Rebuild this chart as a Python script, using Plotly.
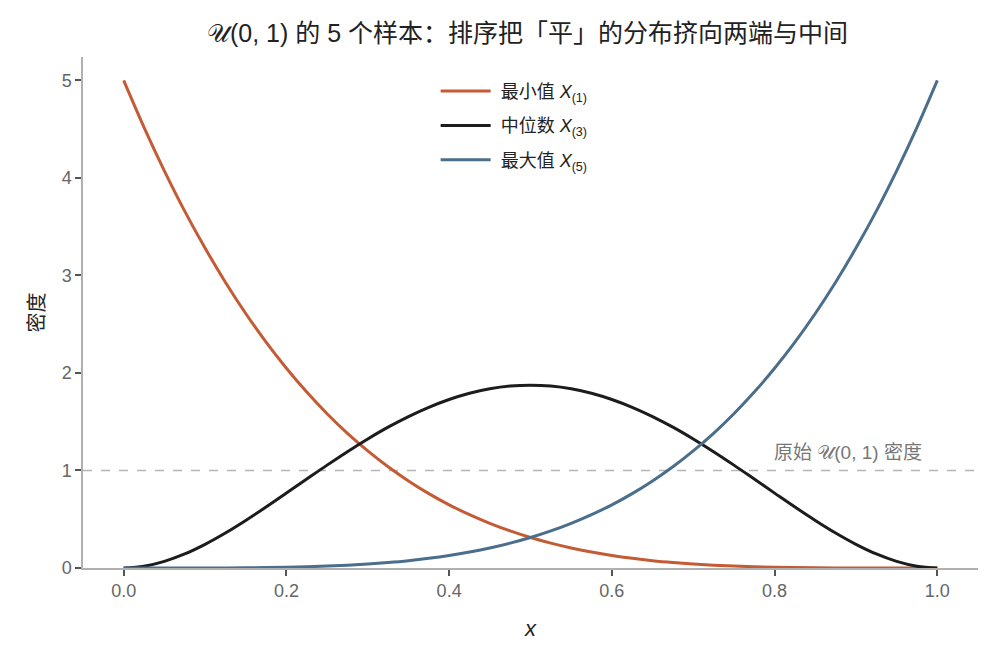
import plotly.graph_objects as go

# densities at x = 0, 0.025, ..., 1.0
xs = [0.0, 0.025, 0.05, 0.075, 0.1, 0.125, 0.15, 0.175, 0.2, 0.225, 0.25,
      0.275, 0.3, 0.325, 0.35, 0.375, 0.4, 0.425, 0.45, 0.475, 0.5,
      0.525, 0.55, 0.575, 0.6, 0.625, 0.65, 0.675, 0.7, 0.725, 0.75,
      0.775, 0.8, 0.825, 0.85, 0.875, 0.9, 0.925, 0.95, 0.975, 1.0]
min_density = [5.0, 4.519, 4.073, 3.660, 3.281, 2.931, 2.610, 2.316, 2.048, 1.804, 1.582,
               1.381, 1.2005, 1.038, 0.893, 0.763, 0.648, 0.547, 0.458, 0.380, 0.3125,
               0.255, 0.205, 0.163, 0.128, 0.099, 0.075, 0.056, 0.0405, 0.0286, 0.0195,
               0.0128, 0.008, 0.0047, 0.0025, 0.0012, 0.0005, 0.00016, 0.00003, 0.0, 0.0]
median_density = [0.0, 0.018, 0.068, 0.144, 0.243, 0.359, 0.488, 0.625, 0.768, 0.912, 1.055,
                  1.193, 1.323, 1.444, 1.553, 1.648, 1.728, 1.792, 1.838, 1.866, 1.875,
                  1.866, 1.838, 1.792, 1.728, 1.648, 1.553, 1.444, 1.323, 1.193, 1.055,
                  0.912, 0.768, 0.625, 0.488, 0.359, 0.243, 0.144, 0.068, 0.018, 0.0]
max_density = [0.0, 0.0, 0.00003, 0.00016, 0.0005, 0.0012, 0.0025, 0.0047, 0.008, 0.0128, 0.0195,
               0.0286, 0.0405, 0.056, 0.075, 0.099, 0.128, 0.163, 0.205, 0.255, 0.3125,
               0.380, 0.458, 0.547, 0.648, 0.763, 0.893, 1.038, 1.2005, 1.381, 1.582,
               1.804, 2.048, 2.316, 2.610, 2.931, 3.281, 3.660, 4.073, 4.519, 5.0]

names = ["\u00a0最小值 <i>X</i><sub>(1)</sub>", "\u00a0中位数 <i>X</i><sub>(3)</sub>",
         "\u00a0最大值 <i>X</i><sub>(5)</sub>"]
colors = ["#C45B35", "#1C1C1C", "#4A6E8B"]

font_fam = "Liberation Sans, Noto Sans CJK SC, DejaVu Sans, sans-serif"

fig = go.Figure()
for i, (ys, name, c) in enumerate(zip([min_density, median_density, max_density], names, colors)):
    fig.add_trace(go.Scatter(
        x=xs, y=ys, mode="lines", name=name, legendgroup=f"g{i}",
        line=dict(color=c, width=3, shape="spline", smoothing=1.0),
        cliponaxis=False,
    ))

# original U(0,1) density
fig.add_shape(type="line", xref="paper", yref="y", x0=0, x1=1, y0=1, y1=1,
              line=dict(color="#b5b5b5", width=1.5, dash="dash"), layer="below")
fig.add_annotation(x=0.984, y=1.18, xref="x", yref="y", xanchor="right", yanchor="middle",
                   text="原始 𝒰(0, 1) 密度", showarrow=False,
                   font=dict(size=19, color="#777777"))

fig.update_layout(
    width=999, height=660,
    paper_bgcolor="white", plot_bgcolor="white",
    margin=dict(l=75, r=29, t=49, b=100),
    font=dict(family=font_fam, color="#333333"),
    title=dict(text="𝒰(0, 1) 的 5 个样本：排序把「平」的分布挤向两端与中间",
               x=0.52, xanchor="center", y=0.962, yanchor="middle",
               font=dict(size=25, color="#222222")),
    legend=dict(x=0.394, y=0.969, xanchor="left", yanchor="top",
                bgcolor="rgba(0,0,0,0)", font=dict(size=18, color="#222222"),
                traceorder="grouped", tracegroupgap=8, itemwidth=50),
    xaxis=dict(range=[-0.05, 1.05], tickvals=[0, 0.2, 0.4, 0.6, 0.8, 1.0],
               ticktext=["0.0", "0.2", "0.4", "0.6", "0.8", "1.0"],
               showgrid=False, zeroline=False, showline=True, linecolor="#b0b0b0", linewidth=1.5,
               ticks="outside", ticklen=6, tickcolor="#555555", tickwidth=1.5,
               tickfont=dict(size=18, color="#666666"),
               title=dict(text="<i>x</i>", font=dict(size=22, color="#222222"), standoff=20)),
    yaxis=dict(range=[0, 5.24], tickvals=[0, 1, 2, 3, 4, 5],
               showgrid=False, zeroline=False, showline=True, linecolor="#b0b0b0", linewidth=1.5,
               ticks="outside", ticklen=6, tickcolor="#555555", tickwidth=1.5,
               tickfont=dict(size=18, color="#666666"),
               title=dict(text="密度", font=dict(size=20, color="#222222"), standoff=12)),
)

fig.write_html("out.html")
